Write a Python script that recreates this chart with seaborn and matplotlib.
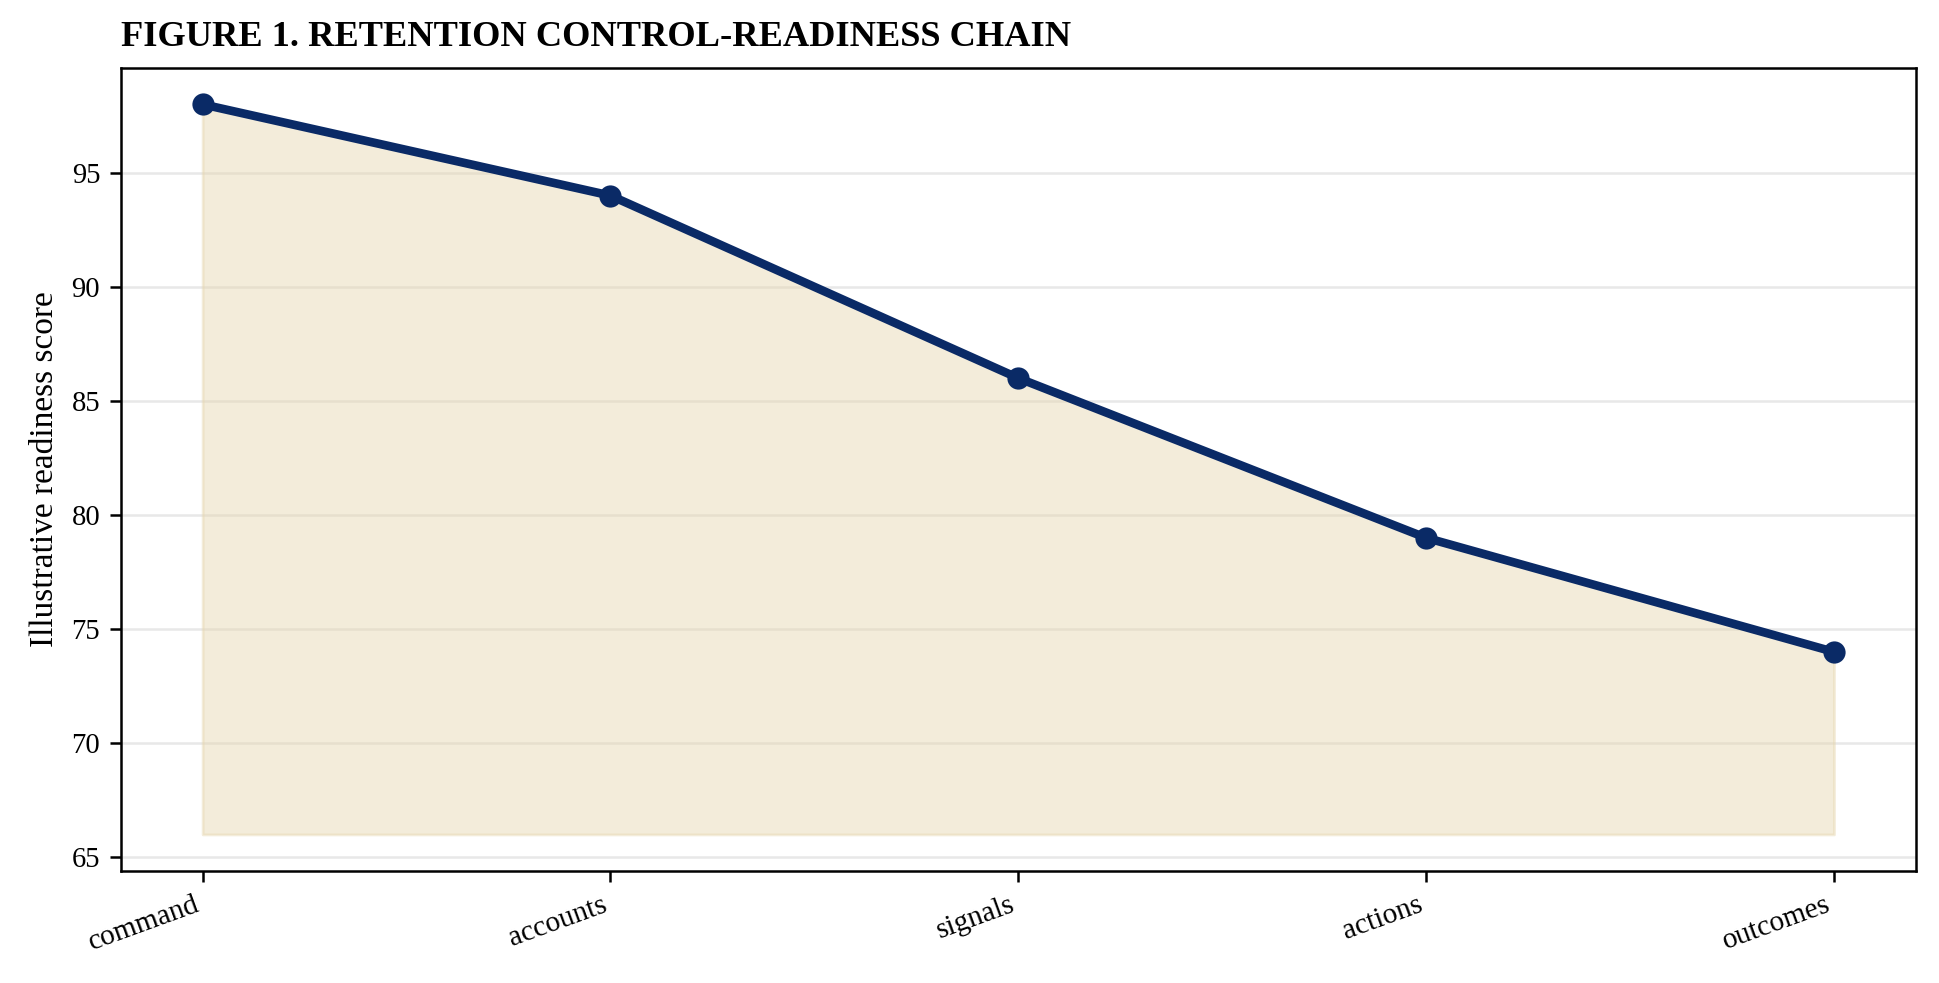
import matplotlib
matplotlib.use("Agg")
import matplotlib.pyplot as plt
import seaborn as sns
import pandas as pd

# data
stages = ["command", "accounts", "signals", "actions", "outcomes"]
scores = [98, 94, 86, 79, 74]
fill_floor = 66

TITLE = "FIGURE 1. RETENTION CONTROL-READINESS CHAIN"
YLABEL = "Illustrative readiness score"

sns.set_theme(style="ticks")
plt.rcParams["font.family"] = ["Liberation Serif", "DejaVu Serif"]
plt.rcParams["axes.edgecolor"] = "black"
plt.rcParams["axes.linewidth"] = 0.9
plt.rcParams["text.color"] = "black"
plt.rcParams["axes.labelcolor"] = "black"

df = pd.DataFrame({"pos": range(len(stages)), "stage": stages, "score": scores})

fig = plt.figure(figsize=(9.7, 4.915), dpi=200)
ax = fig.add_axes([0.0624, 0.114, 0.925, 0.817])

# shaded area under the chain
ax.fill_between(df["pos"], fill_floor, df["score"], color="#e6d6ae", alpha=0.45,
                linewidth=1.0, edgecolor="#e6d6ae", zorder=1)

sns.lineplot(data=df, x="pos", y="score", ax=ax, color="#0a2a66", linewidth=3.1,
             marker="o", markersize=8, markeredgewidth=0, zorder=3)

ax.set_xticks(df["pos"])
ax.set_xticklabels(stages, rotation=20, ha="right", fontsize=10.6)
ax.set_yticks([65, 70, 75, 80, 85, 90, 95])
ax.tick_params(axis="y", labelsize=10.3, length=4, width=0.9, colors="black")
ax.tick_params(axis="x", length=4, width=0.9, colors="black")

ax.grid(axis="y", color="#d9d9d9", alpha=0.6, linewidth=0.9)
ax.set_axisbelow(True)

ax.set_xlabel("")
ax.set_ylabel(YLABEL, fontsize=12, color="black")
ax.set_title(TITLE, loc="left", fontweight="bold", fontsize=13.1, pad=8, color="black")

fig.savefig("out.png", dpi=200)
